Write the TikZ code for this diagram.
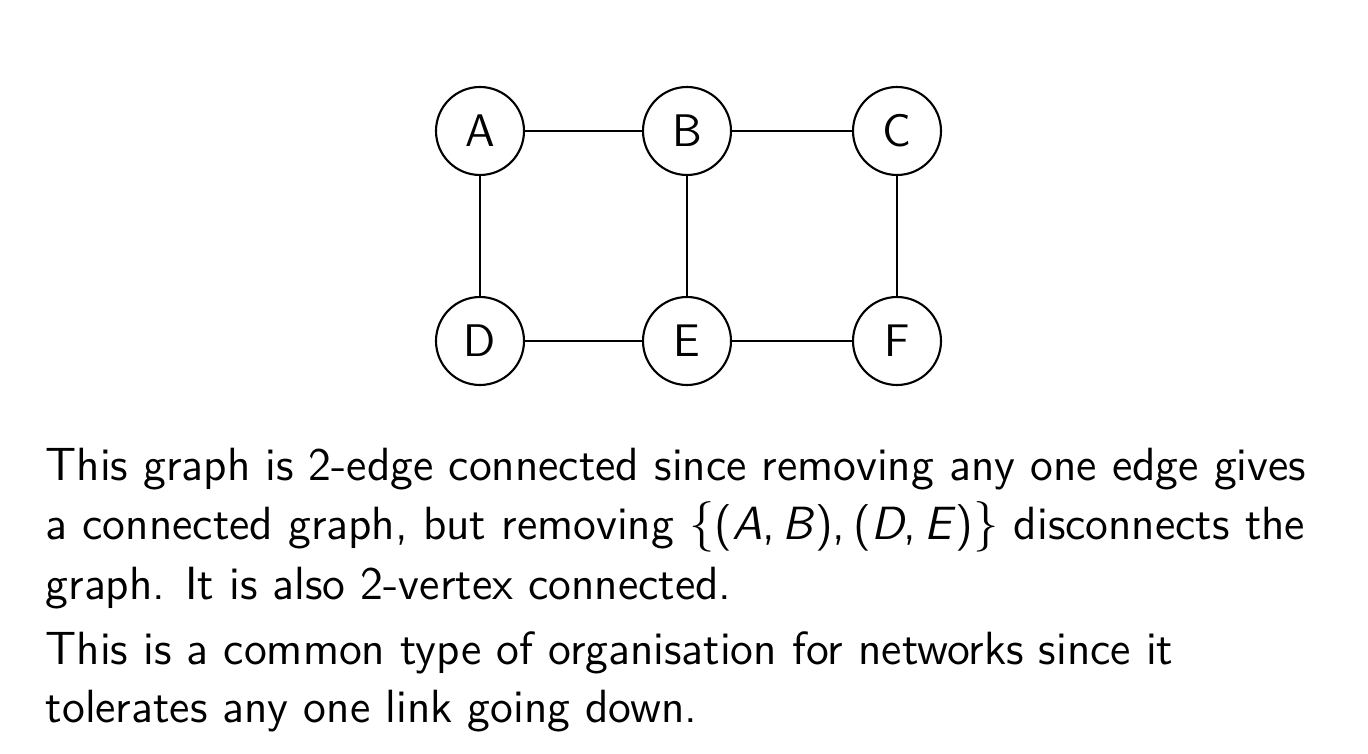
\documentclass[tikz,border=0pt]{standalone}
\usepackage{fontspec}
\renewcommand{\familydefault}{\sfdefault}
\begin{document}
\begin{tikzpicture}[x=1cm,y=1cm,
  vert/.style={circle,draw,line width=0.6pt,minimum size=0.88cm,inner sep=0pt,font=\fontsize{13}{15}\selectfont\sffamily},
  edge/.style={line width=0.7pt},
  txt/.style={anchor=base west,inner sep=0pt,font=\fontsize{13.25}{16}\selectfont\sffamily}]
\useasboundingbox (0,0) rectangle (13.68,-7.54);
\node[vert] (A) at (4.80,-1.31) {A};
\node[vert] (B) at (6.87,-1.31) {B};
\node[vert] (C) at (8.97,-1.31) {C};
\node[vert] (D) at (4.80,-3.41) {D};
\node[vert] (E) at (6.87,-3.41) {E};
\node[vert] (F) at (8.97,-3.41) {F};
\draw[edge] (A) -- (B);
\draw[edge] (B) -- (C);
\draw[edge] (D) -- (E);
\draw[edge] (E) -- (F);
\draw[edge] (A) -- (D);
\draw[edge] (B) -- (E);
\draw[edge] (C) -- (F);
\node[txt] (l1) at (0.45,-4.81) {This graph is 2-edge connected since removing any one edge gives};
\node[txt] (l2) at (0.45,-5.40) {a connected graph, but removing $\{$(\textsl{A},\,\textsl{B}),\,(\textsl{D},\,\textsl{E})$\}$ disconnects the};
\node[txt] (l3) at (0.45,-5.99) {graph. It is also 2-vertex connected.};
\node[txt] (l4) at (0.45,-6.65) {This is a common type of organisation for networks since it};
\node[txt] (l5) at (0.45,-7.22) {tolerates any one link going down.};
\end{tikzpicture}
\end{document}
